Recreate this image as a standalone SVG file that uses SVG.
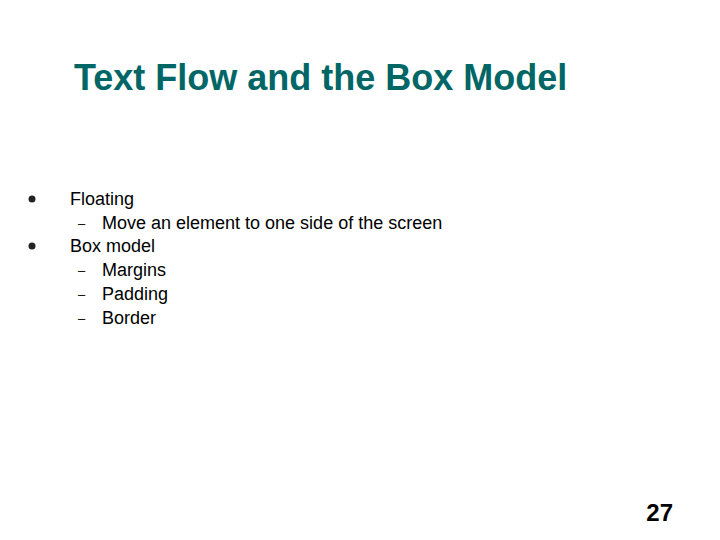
<svg xmlns="http://www.w3.org/2000/svg" width="720" height="540" viewBox="0 0 720 540">
<style>
.t{font-family:"Liberation Sans",Arial,sans-serif;font-size:18px;fill:#000}
.d{font-family:"Liberation Sans",Arial,sans-serif;font-size:13px;fill:#000}
</style>
<rect width="720" height="540" fill="#fff"/>
<text x="74" y="90" font-family="Liberation Sans,Arial,sans-serif" font-size="36" font-weight="bold" fill="#006666">Text Flow and the Box Model</text>
<circle cx="32" cy="199" r="3.5" fill="#222"/>
<circle cx="32" cy="246" r="3.5" fill="#222"/>
<text class="t" x="70" y="205">Floating</text>
<text class="d" x="78" y="228">–</text>
<text class="t" x="102" y="229">Move an element to one side of the screen</text>
<text class="t" x="70" y="252">Box model</text>
<text class="d" x="78" y="275">–</text>
<text class="t" x="102" y="276">Margins</text>
<text class="d" x="78" y="299">–</text>
<text class="t" x="102" y="300">Padding</text>
<text class="d" x="78" y="323">–</text>
<text class="t" x="102" y="324">Border</text>
<text x="673" y="521" text-anchor="end" font-family="Liberation Sans,Arial,sans-serif" font-size="24" font-weight="bold">27</text>
</svg>
